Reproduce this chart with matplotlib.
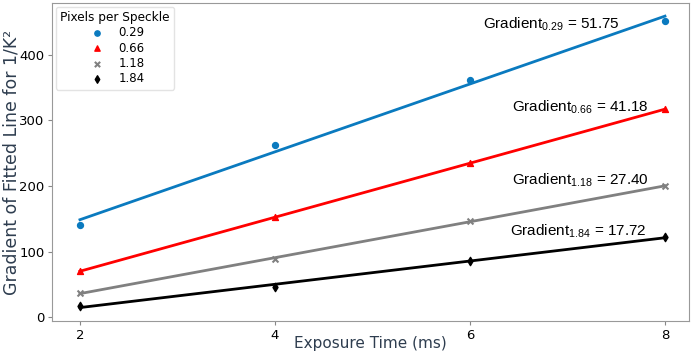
import numpy as np
import matplotlib
matplotlib.use("Agg")
import matplotlib.pyplot as plt

# exposure times and measured gradients per speckle size
exposure = [2, 4, 6, 8]
speckles = ["0.29", "0.66", "1.18", "1.84"]
grad_029 = [140, 262, 361, 452]
grad_066 = [70, 152, 235, 317]
grad_118 = [37, 88, 147, 200]
grad_184 = [17, 46, 86, 122]
slopes = ["51.75", "41.18", "27.40", "17.72"]

series = [grad_029, grad_066, grad_118, grad_184]
colors = ["#0a7abf", "#ff0000", "#808080", "#000000"]
markers = ["o", "^", "x", "d"]
# label anchor (data coords)
label_pos = [(6.13, 446), (6.43, 320), (6.43, 208), (6.41, 131)]

plt.rcParams["mathtext.default"] = "regular"

fig = plt.figure(figsize=(6.92, 3.6), dpi=100)
ax = fig.add_axes([0.0751, 0.1083, 0.9205, 0.8833])

x = np.array(exposure)
for ys, c, m, sp, sl, pos in zip(series, colors, markers, speckles, slopes, label_pos):
    ax.scatter(x, ys, color=c, marker=m, s=18, label=sp, zorder=3)
    k, b = np.polyfit(x, ys, 1)
    ax.plot(x, k * x + b, color=c, lw=2)
    ax.text(pos[0], pos[1], "Gradient$_{%s}$ = %s" % (sp, sl), ha="left", va="center",
            fontsize=11, family="Liberation Sans")

ax.set_xlim(1.713, 8.246)
ax.set_ylim(-6, 479)
ax.set_xticks([2, 4, 6, 8])
ax.set_yticks([0, 100, 200, 300, 400])

lab_color = "#2e3d4f"
ax.set_xlabel("Exposure Time (ms)", fontsize=11, color=lab_color, va="center")
ax.set_ylabel("Gradient of Fitted Line for 1/K²", fontsize=12.5, color=lab_color, va="center")
ax.xaxis.set_label_coords(0.5, -0.072)
ax.yaxis.set_label_coords(-0.0636, 0.5)
ax.tick_params(labelsize=9.5, colors="#888888", labelcolor="black", length=3, pad=2.5)
for s in ax.spines.values():
    s.set_color("#999999")

leg = ax.legend(title="Pixels per Speckle", loc="upper left", fontsize=8.5,
                title_fontsize=8.7, borderpad=0.4, labelspacing=0.18,
                borderaxespad=0.3, markerscale=0.9)
leg.get_frame().set_edgecolor("#dddddd")

fig.savefig("out.png", dpi=100)
